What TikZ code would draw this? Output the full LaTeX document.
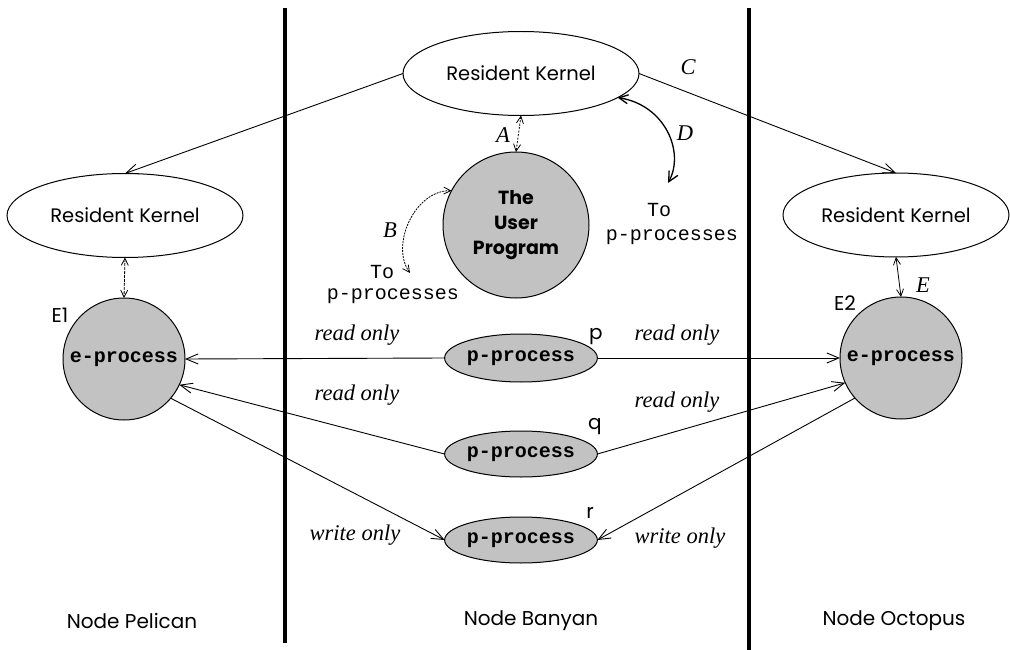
\documentclass[tikz,border=0pt]{standalone}
\usepackage{fontspec}
\setmainfont{Liberation Serif}
\newfontfamily\geo{Poppins}
\newfontfamily\mono{Liberation Mono}
\usetikzlibrary{arrows.meta,shapes.geometric}
\begin{document}
\begin{tikzpicture}[x=1pt,y=-1pt,
  every node/.style={inner sep=0pt, outer sep=0pt},
  kern/.style={draw, ellipse, line width=1pt, minimum width=236pt, minimum height=84pt, font=\geo\fontsize{19.5}{21}\selectfont},
  eproc/.style={draw, circle, line width=1pt, fill=black!24, minimum size=122pt, font=\mono\bfseries\fontsize{20}{21}\selectfont},
  pproc/.style={draw, ellipse, line width=1pt, fill=black!24, minimum width=136pt, minimum height=48pt, font=\mono\bfseries\fontsize{20}{21}\selectfont},
  sep/.style={line width=3.5pt},
  conn/.style={line width=0.9pt, -{Straight Barb[length=12pt,width=10pt]}},
  dconn/.style={line width=0.8pt, {Straight Barb[length=7pt,width=7pt]}-{Straight Barb[length=7pt,width=7pt]}},
  lab/.style={font=\itshape\fontsize{22.5}{24}\selectfont},
  tag/.style={font=\geo\fontsize{20}{22}\selectfont},
  monolab/.style={font=\mono\fontsize{20}{22}\selectfont},
]
\useasboundingbox (0,0) rectangle (1010,650);
% separators
\draw[sep] (285,8) coordinate (s1a) -- (285,643) coordinate (s1b);
\draw[sep] (749,8) coordinate (s2a) -- (749,650) coordinate (s2b);
% kernels
\node[kern] (topk) at (521,73.5) {Resident Kernel};
\node[kern] (leftk) at (125,215.5) {Resident Kernel};
\node[kern, minimum width=226pt] (rightk) at (896,215) {Resident Kernel};
% user program
\node[draw, circle, line width=1pt, fill=black!24, minimum size=146pt, align=center,
  font=\geo\bfseries\fontsize{19}{25}\selectfont] (user) at (516,225) {The\\User\\Program};
% e-processes
\node[eproc] (E1) at (124,359) {e-process};
\node[eproc] (E2) at (901,358) {e-process};
% p-processes
\node[pproc] (p) at (521,358) {p-process};
\node[pproc, minimum height=46pt] (q) at (521,454) {p-process};
\node[pproc, minimum height=46pt] (r) at (521,540) {p-process};
% connectors
\draw[conn] (topk.west) -- (leftk.north);
\draw[conn] (topk.east) -- (rightk.north);
\draw[dconn, dash pattern=on 2pt off 1.5pt] (topk.south) -- (user.north);
\draw[dconn, dash pattern=on 3pt off 1pt] (leftk.south) -- (E1.north);
\draw[dconn] (rightk.south) -- (E2.north);
\coordinate (bend) at (410,273);
\draw[dconn, dash pattern=on 2pt off 1pt] (user.152) .. controls (415,190) and (390,245) .. (bend);
\coordinate (dend) at (668,183);
\draw[line width=1.3pt, {Straight Barb[length=9pt,width=9pt]}-{Straight Barb[length=10pt,width=10pt]}] (topk.-14) .. controls (665,105) and (685,152) .. (dend);
\draw[conn] (p.west) -- (E1.east);
\draw[conn] (p.east) -- (E2.west);
\draw[conn] (q.west) -- (E1.-25);
\draw[conn] (q.east) -- (E2.-156);
\draw[conn] (E1.-40) -- (r.west);
\draw[conn] (E2.-139) -- (r.east);
% labels
\node[lab] (lA) at (503,135) {A};
\node[lab] (lB) at (390,230) {B};
\node[lab] (lC) at (688,67) {C};
\node[lab] (lD) at (685,133) {D};
\node[lab] (lE) at (923,285) {E};
\node[monolab] (to1) at (382,272) {To};
\node[monolab] (pp1) at (393,296) {p-processes};
\node[monolab] (to2) at (659,210) {To};
\node[monolab] (pp2) at (672,237) {p-processes};
\node[tag] (tE1) at (60,315) {E1};
\node[tag] (tE2) at (845,303) {E2};
\node[tag] (tp) at (596,337) {p};
\node[tag] (tq) at (595,427) {q};
\node[tag] (tr) at (590,513) {r};
\node[lab] (ro1) at (357,335) {read only};
\node[lab] (ro2) at (677,335) {read only};
\node[lab] (ro3) at (357,395) {read only};
\node[lab] (ro4) at (677,402) {read only};
\node[lab] (wo1) at (355,535) {write only};
\node[lab] (wo2) at (680,538) {write only};
\node[tag] (n1) at (132,621) {Node Pelican};
\node[tag] (n2) at (531,621) {Node Banyan};
\node[tag] (n3) at (894,621) {Node Octopus};
\end{tikzpicture}
\end{document}
